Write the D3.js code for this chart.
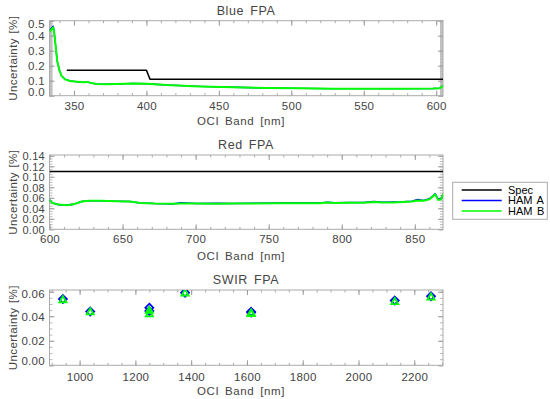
<!DOCTYPE html>
<html>
<head>
<meta charset="utf-8">
<script src="https://cdn.jsdelivr.net/npm/d3@7"></script>
<style>
  body { margin: 0; background: #fff; }
  text { font-family: "Liberation Sans", Arial, sans-serif; fill: #444; }
</style>
</head>
<body>
<div id="chart"></div>
<script>
// ---- data ----
// Blue FPA
const blueWl   = [333.1, 334.6, 335.7, 336.4, 337.6, 338.5, 339.9, 341.5, 343.8, 347.2, 352, 356.4, 359.2, 362, 365.6, 372, 379.4, 390.9, 400.1, 413.9, 436.9, 459.9, 482.9, 505.9, 528.9, 551.8, 574.8, 597.8, 602.4, 604.7];
const blueHamA = [0.433, 0.452, 0.463, 0.420, 0.306, 0.228, 0.172, 0.132, 0.110, 0.099, 0.093, 0.089, 0.092, 0.084, 0.078, 0.077, 0.078, 0.082, 0.080, 0.071, 0.062, 0.056, 0.051, 0.049, 0.047, 0.047, 0.047, 0.048, 0.050, 0.065];
const blueHamB = [0.427, 0.443, 0.456, 0.418, 0.305, 0.227, 0.171, 0.131, 0.109, 0.098, 0.093, 0.089, 0.092, 0.084, 0.078, 0.077, 0.078, 0.082, 0.080, 0.071, 0.062, 0.056, 0.051, 0.049, 0.047, 0.047, 0.047, 0.048, 0.050, 0.065];
const blueSpecWl = [345, 400, 402.5, 604.7];
const blueSpec   = [0.17, 0.17, 0.11, 0.11];

// Red FPA
const redWl   = [600, 602, 606, 612, 617, 622, 627, 635, 645, 655, 662, 672, 685, 690, 700, 715, 725, 740, 755, 770, 785, 790, 795, 805, 815, 822, 828, 835, 842, 848, 852, 856, 860, 864, 866, 868, 869.3];
const redHamA = [0.056, 0.050, 0.047, 0.046, 0.048, 0.053, 0.0545, 0.0545, 0.0535, 0.053, 0.050, 0.049, 0.0485, 0.0505, 0.049, 0.0495, 0.049, 0.0495, 0.050, 0.050, 0.050, 0.0515, 0.0505, 0.051, 0.051, 0.053, 0.0515, 0.052, 0.0525, 0.0535, 0.0565, 0.055, 0.058, 0.0675, 0.057, 0.058, 0.067];
const redHamB = [0.056, 0.050, 0.047, 0.046, 0.048, 0.053, 0.0545, 0.0545, 0.0535, 0.053, 0.050, 0.049, 0.0485, 0.0490, 0.049, 0.0485, 0.049, 0.049, 0.0495, 0.0495, 0.0495, 0.051, 0.050, 0.0505, 0.0505, 0.052, 0.051, 0.051, 0.052, 0.053, 0.055, 0.0545, 0.057, 0.0665, 0.056, 0.057, 0.067];
const redSpecWl = [600, 869.3];
const redSpec   = [0.11, 0.11];

// SWIR FPA
const swirWl   = [940, 1038, 1250, 1250, 1378, 1615, 1615, 2130, 2260];
const swirHamA = [0.0540, 0.0438, 0.0470, 0.0442, 0.0592, 0.0436, 0.0430, 0.0528, 0.0563];
const swirHamB = [0.0535, 0.0436, 0.0448, 0.0420, 0.0590, 0.0428, 0.0422, 0.0520, 0.0557];

// tick labels
const blueXTicks = [350, 400, 450, 500, 550, 600];
const blueYTicks = [0.0, 0.1, 0.2, 0.3, 0.4, 0.5];
const redXTicks  = [600, 650, 700, 750, 800, 850];
const redYTicks  = [0.00, 0.02, 0.04, 0.06, 0.08, 0.10, 0.12, 0.14];
const swirXTicks = [1000, 1200, 1400, 1600, 1800, 2000, 2200];
const swirYTicks = [0.00, 0.02, 0.04, 0.06];

const legendNames = ['Spec', 'HAM A', 'HAM B'];
const colors = {'Spec': '#000', 'HAM A': '#0000ff', 'HAM B': '#00ff00'};

// ---- drawing ----
const L = 49.5, R = 443;
const svg = d3.select('#chart').append('svg').attr('width', 550).attr('height', 399);

// steps -> array of values inside [a,b]
function steps(a, b, s){
    const out = [];
    for (let i = Math.ceil(a / s - 1e-9); i * s <= b + 1e-9; i++) out.push(+(i * s).toFixed(6));
    return out;
}

function panel(cfg){
    const x = d3.scaleLinear().domain(cfg.xDomain).range([L, R]);
    const y = d3.scaleLinear().domain(cfg.yDomain).range([cfg.bottom, cfg.top]);
    const g = svg.append('g');
    const h = cfg.bottom - cfg.top;

    // minor ticks on all four sides
    const xMinor = steps(cfg.xDomain[0], cfg.xDomain[1], cfg.xMinor);
    const yMinor = steps(cfg.yDomain[0], cfg.yDomain[1], cfg.yMinor);
    [[d3.axisBottom(x), cfg.bottom], [d3.axisTop(x), cfg.top]].forEach(function(a){
        g.append('g').attr('transform', 'translate(0,' + a[1] + ')')
            .call(a[0].tickValues(xMinor).tickSize(-2.5).tickFormat(''))
            .call(s => s.select('.domain').remove())
            .selectAll('line').attr('stroke', '#aaa');
    });
    [[d3.axisLeft(y), L], [d3.axisRight(y), R]].forEach(function(a){
        g.append('g').attr('transform', 'translate(' + a[1] + ',0)')
            .call(a[0].tickValues(yMinor).tickSize(-3).tickFormat(''))
            .call(s => s.select('.domain').remove())
            .selectAll('line').attr('stroke', '#bbb');
    });

    // major ticks
    g.append('g').attr('transform', 'translate(0,' + cfg.bottom + ')')
        .call(d3.axisBottom(x).tickValues(cfg.xTicks).tickSize(-5).tickPadding(cfg.xPad).tickFormat(d3.format('d')))
        .call(s => s.select('.domain').remove())
        .call(s => s.selectAll('line').attr('stroke', '#999'))
        .selectAll('text').attr('font-size', 11.5).attr('fill', '#444').attr('font-family', null).attr('letter-spacing', 0.3);
    g.append('g').attr('transform', 'translate(0,' + cfg.top + ')')
        .call(d3.axisTop(x).tickValues(cfg.xTicks).tickSize(-5).tickFormat(''))
        .call(s => s.select('.domain').remove())
        .selectAll('line').attr('stroke', '#999');
    const yl = g.append('g').attr('transform', 'translate(' + L + ',0)')
        .call(d3.axisLeft(y).tickValues(cfg.yTicks).tickSize(-5).tickPadding(4.5).tickFormat(d3.format(cfg.yFmt)))
        .call(s => s.select('.domain').remove())
        .call(s => s.selectAll('line').attr('stroke', '#999'));
    // keep the end labels near the box height (IDL style)
    yl.selectAll('text').attr('font-size', cfg.yFont).attr('fill', '#444').attr('font-family', null)
        .attr('letter-spacing', 0.3)
        .attr('dy', null).attr('dominant-baseline', 'central')
        .attr('y', function(d){ const p = y(d); return Math.max(cfg.top + cfg.clamp[0], Math.min(cfg.bottom - cfg.clamp[1], p)) - p; });
    g.append('g').attr('transform', 'translate(' + R + ',0)')
        .call(d3.axisRight(y).tickValues(cfg.yTicks).tickSize(-5).tickFormat(''))
        .call(s => s.select('.domain').remove())
        .selectAll('line').attr('stroke', '#999');

    // frame
    g.append('rect').attr('x', L).attr('y', cfg.top).attr('width', R - L).attr('height', h)
        .attr('fill', 'none').attr('stroke', '#aaa').attr('stroke-width', 1);

    // titles
    g.append('text').attr('x', 246).attr('y', cfg.top - 6).attr('text-anchor', 'middle')
        .attr('font-size', 12.5).attr('letter-spacing', 0.6).attr('word-spacing', 2).text(cfg.title);
    g.append('text').attr('x', 241).attr('y', cfg.xTitleY).attr('text-anchor', 'middle')
        .attr('font-size', 11.5).attr('letter-spacing', 0.6).attr('word-spacing', 2).text('OCI Band [nm]');
    g.append('text').attr('transform', 'translate(17,' + (cfg.top + h / 2) + ') rotate(-90)')
        .attr('text-anchor', 'middle').attr('font-size', 11.5).attr('letter-spacing', 0.4).attr('word-spacing', 1).text('Uncertainty [%]');

    const clip = 'clip' + cfg.id;
    g.append('clipPath').attr('id', clip).append('rect')
        .attr('x', L).attr('y', cfg.top).attr('width', R - L).attr('height', h);
    const plot = g.append('g').attr('clip-path', 'url(#' + clip + ')');
    return {x: x, y: y, plot: plot};
}

function drawLine(p, xs, ys, color, w){
    const line = d3.line().x(function(d){ return p.x(d[0]); }).y(function(d){ return p.y(d[1]); });
    p.plot.append('path').datum(d3.zip(xs, ys)).attr('d', line)
        .attr('fill', 'none').attr('stroke', color).attr('stroke-width', w).attr('stroke-linejoin', 'round');
}

// Blue FPA
const pb = panel({id: 'b', title: 'Blue FPA', top: 20.7, bottom: 95.7, xDomain: [333.1, 604.7], yDomain: [0, 0.5],
    xTicks: blueXTicks, yTicks: blueYTicks, xMinor: 10, yMinor: 0.005, yFmt: '.1f', yFont: 11.5, clamp: [2.6, 4.5],
    xPad: 6.5, xTitleY: 124.5});
drawLine(pb, blueSpecWl, blueSpec, colors['Spec'], 1.6);
drawLine(pb, blueWl, blueHamA, colors['HAM A'], 1.4);
drawLine(pb, blueWl, blueHamB, colors['HAM B'], 2);

// Red FPA
const pr = panel({id: 'r', title: 'Red FPA', top: 155, bottom: 229.3, xDomain: [600, 869.3], yDomain: [0, 0.1415],
    xTicks: redXTicks, yTicks: redYTicks, xMinor: 10, yMinor: 0.005, yFmt: '.2f', yFont: 11, clamp: [0, 0],
    xPad: 6, xTitleY: 260});
drawLine(pr, redSpecWl, redSpec, colors['Spec'], 1.6);
drawLine(pr, redWl, redHamA, colors['HAM A'], 1.6);
drawLine(pr, redWl, redHamB, colors['HAM B'], 2);

// SWIR FPA
const ps = panel({id: 's', title: 'SWIR FPA', top: 290, bottom: 365.3, xDomain: [892, 2303], yDomain: [0, 0.0614],
    xTicks: swirXTicks, yTicks: swirYTicks, xMinor: 50, yMinor: 0.005, yFmt: '.2f', yFont: 11.5, clamp: [3, 5],
    xPad: 7.5, xTitleY: 394.5});
const swirA = d3.zip(swirWl, swirHamA), swirB = d3.zip(swirWl, swirHamB);
ps.plot.selectAll('.dia').data(swirA).enter().append('path').attr('class', 'dia')
    .attr('d', d3.symbol().type(d3.symbolDiamond2).size(40))
    .attr('transform', function(d){ return 'translate(' + ps.x(d[0]) + ',' + ps.y(d[1]) + ')'; })
    .attr('fill', 'none').attr('stroke', colors['HAM A']).attr('stroke-width', 1.8);
ps.plot.selectAll('.tri').data(swirB).enter().append('path').attr('class', 'tri')
    .attr('d', d3.symbol().type(d3.symbolTriangle2).size(36))
    .attr('transform', function(d){ return 'translate(' + ps.x(d[0]) + ',' + (ps.y(d[1]) + 0.5) + ')'; })
    .attr('fill', 'none').attr('stroke', colors['HAM B']).attr('stroke-width', 1.8);

// legend
const leg = svg.append('g');
leg.append('rect').attr('x', 452.7).attr('y', 182.3).attr('width', 94.6).attr('height', 37)
    .attr('fill', '#fff').attr('stroke', '#aaa');
const row = leg.selectAll('.row').data(legendNames).enter().append('g').attr('class', 'row')
    .attr('transform', function(d, i){ return 'translate(0,' + (190 + i * 10.5) + ')'; });
row.append('line').attr('x1', 461.7).attr('x2', 501.7).attr('stroke', function(d){ return colors[d]; }).attr('stroke-width', 1.5);
row.append('text').attr('x', 508).attr('dy', '0.35em').attr('font-size', 11).attr('fill', '#000')
    .attr('word-spacing', 1.5).style('fill', '#000').text(function(d){ return d; });
</script>
</body>
</html>
